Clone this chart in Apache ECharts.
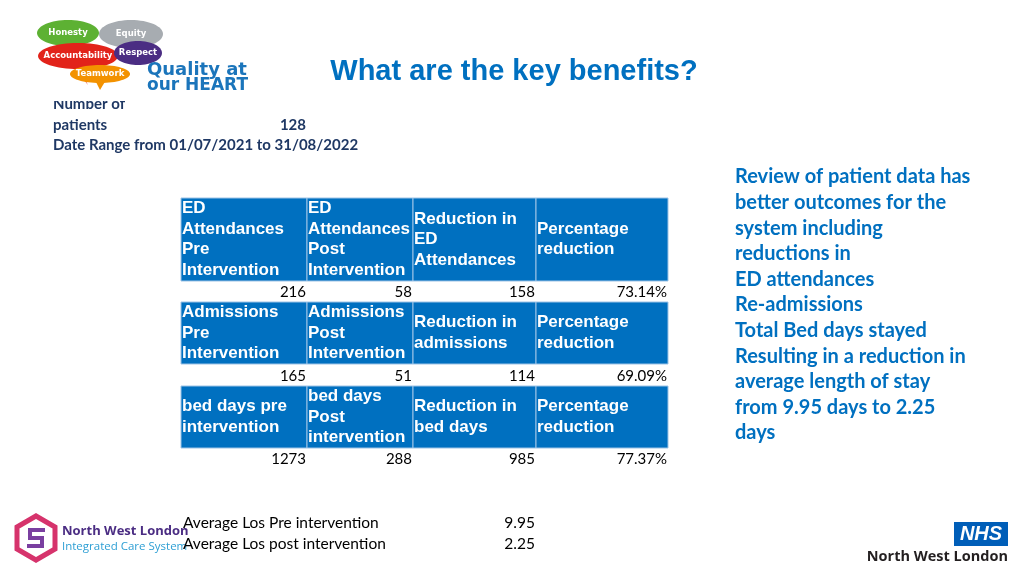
<!DOCTYPE html>
<html><head><meta charset="utf-8">
<script src="https://cdn.jsdelivr.net/npm/echarts@6/dist/echarts.min.js"></script>
<style>html,body{margin:0;padding:0;background:#fff}#c{width:1024px;height:576px}</style>
</head><body><div id="c"></div>
<script>
// ---- data ----
const title = 'What are the key benefits?';
const patientsLabel = ['Number of', 'patients'];
const patientsCount = '128';
const dateRange = 'Date Range from 01/07/2021 to 31/08/2022';
const headerRows = [
  ['ED\nAttendances\nPre\nIntervention', 'ED\nAttendances\nPost\nIntervention', 'Reduction in\nED\nAttendances', 'Percentage\nreduction'],
  ['Admissions\nPre\nIntervention', 'Admissions\nPost\nIntervention', 'Reduction in\nadmissions', 'Percentage\nreduction'],
  ['bed days pre\nintervention', 'bed days\nPost\nintervention', 'Reduction in\nbed days', 'Percentage\nreduction']
];
const valueRows = [
  ['216', '58', '158', '73.14%'],
  ['165', '51', '114', '69.09%'],
  ['1273', '288', '985', '77.37%']
];
const losLabels = ['Average Los Pre intervention', 'Average Los post intervention'];
const losValues = ['9.95', '2.25'];
const summaryLines = ['Review of patient data has', 'better outcomes for the', 'system including', 'reductions in', 'ED attendances', 'Re-admissions', 'Total Bed days stayed', 'Resulting in a reduction in', 'average length of stay', 'from 9.95 days to 2.25', 'days'];
const values = ['Honesty', 'Equity', 'Accountability', 'Respect', 'Teamwork'];

// ---- layout ----
const colX = [181, 307, 413, 536, 668];
const headerTops = [198, 302, 386];
const headerBottoms = [281, 364, 448];
const valueY = [292, 376, 459];
const BLUE = '#0070C0';
const calibri = 'Lato, "Open Sans", sans-serif';

const g = [];
// title
g.push({type:'text', x:514, y:72, style:{text:title, fill:BLUE, font:'bold 29px "Liberation Sans", Arial, sans-serif', align:'center', verticalAlign:'middle'}});

// patient info (top of "Number of" hidden under the logo)
g.push({type:'text', x:53, y:104, z:1, style:{text:patientsLabel[0], fill:'#1F3864', font:'bold 15px '+calibri, verticalAlign:'middle'}});
g.push({type:'rect', z:2, shape:{x:40, y:88, width:220, height:13}, style:{fill:'#fff'}});
g.push({type:'text', x:53, y:125, style:{text:patientsLabel[1], fill:'#1F3864', font:'bold 15px '+calibri, verticalAlign:'middle'}});
g.push({type:'text', x:306, y:125, style:{text:patientsCount, fill:'#1F3864', font:'bold 15px '+calibri, align:'right', verticalAlign:'middle'}});
g.push({type:'text', x:53, y:145, style:{text:dateRange, fill:'#1F3864', font:'bold 15px '+calibri, verticalAlign:'middle'}});

// heart logo
const blobs = [
  {cx:68, cy:33, rx:31, ry:13, c:'#5DB133', t:values[0]},
  {cx:131, cy:34, rx:32, ry:14, c:'#A7ACB1', t:values[1]},
  {cx:78, cy:56, rx:40, ry:13, c:'#E2231A', t:values[2]},
  {cx:138, cy:53, rx:24, ry:12, c:'#4B2D83', t:values[3]},
  {cx:100, cy:74, rx:30, ry:9, c:'#F39200', t:values[4]}
];
g.push({type:'polygon', z:3, shape:{points:[[70,62],[88,85],[84,78]]}, style:{fill:'#E2231A'}});
g.push({type:'polygon', z:3, shape:{points:[[95,80],[106,80],[100,90]]}, style:{fill:'#F39200'}});
blobs.forEach(b => {
  g.push({type:'ellipse', z:3, shape:{cx:b.cx, cy:b.cy, rx:b.rx, ry:b.ry}, style:{fill:b.c}});
  g.push({type:'text', z:4, x:b.cx, y:b.cy, style:{text:b.t, fill:'#fff', font:'bold 8.5px "DejaVu Sans", sans-serif', align:'center', verticalAlign:'middle'}});
});
g.push({type:'text', z:4, x:147, y:70, style:{text:'Quality at', fill:'#1B75BB', font:'bold 18px "DejaVu Sans", sans-serif', verticalAlign:'middle'}});
g.push({type:'text', z:4, x:147, y:86, style:{text:'our HEART', fill:'#1B75BB', font:'bold 17px "DejaVu Sans", sans-serif', verticalAlign:'middle'}});

// table
headerRows.forEach((row, r) => {
  row.forEach((h, c) => {
    g.push({type:'rect', shape:{x:colX[c], y:headerTops[r], width:colX[c+1]-colX[c], height:headerBottoms[r]-headerTops[r]},
      style:{fill:BLUE, stroke:'#9DC3E6', lineWidth:1}});
    g.push({type:'text', x:colX[c]+1, y:(headerTops[r]+headerBottoms[r])/2,
      style:{text:h, fill:'#fff', font:'bold 17px "Liberation Sans", Arial, sans-serif', lineHeight:20.5, verticalAlign:'middle'}});
  });
  valueRows[r].forEach((v, c) => {
    g.push({type:'text', x:colX[c+1]-1, y:valueY[r],
      style:{text:v, fill:'#000', font:'15px '+calibri, align:'right', verticalAlign:'middle'}});
  });
});

// summary
summaryLines.forEach((s, i) => {
  g.push({type:'text', x:735, y:177 + i*25.6, style:{text:s, fill:BLUE, font:'bold 20px '+calibri, verticalAlign:'middle'}});
});

// LOS
losLabels.forEach((s, i) => {
  g.push({type:'text', x:183, y:523 + i*21, z:2, style:{text:s, fill:'#000', font:'15.5px '+calibri, verticalAlign:'middle'}});
  g.push({type:'text', x:535, y:523 + i*21, style:{text:losValues[i], fill:'#000', font:'15.5px '+calibri, align:'right', verticalAlign:'middle'}});
});

// NWL ICS logo
g.push({type:'polygon', shape:{points:[[36,516],[55,527],[55,549],[36,560],[17,549],[17,527]]}, style:{fill:'none', stroke:'#D6336C', lineWidth:5}});
g.push({type:'polyline', shape:{points:[[45,530],[30,530],[30,538],[42,538],[42,546],[27,546]]}, style:{fill:'none', stroke:'#7A3FA0', lineWidth:4}});
g.push({type:'text', x:62, y:531, style:{text:'North West London', fill:'#4B2D83', font:'bold 13px "Open Sans", sans-serif', verticalAlign:'middle'}});
g.push({type:'text', x:62, y:547, style:{text:'Integrated Care System', fill:'#2E9FD4', font:'11.5px "Open Sans", sans-serif', verticalAlign:'middle'}});

// NHS logo
g.push({type:'rect', shape:{x:954, y:522, width:54, height:24}, style:{fill:'#005EB8'}});
g.push({type:'text', x:981, y:534, style:{text:'NHS', fill:'#fff', font:'italic bold 20px "Liberation Sans", Arial, sans-serif', align:'center', verticalAlign:'middle'}});
g.push({type:'text', x:1008, y:557, style:{text:'North West London', fill:'#231F20', font:'bold 14.5px "Open Sans", sans-serif', align:'right', verticalAlign:'middle'}});

const chart = echarts.init(document.getElementById('c'), null, {renderer:'canvas'});
chart.setOption({animation:false, graphic:{elements:g}});
</script></body></html>
